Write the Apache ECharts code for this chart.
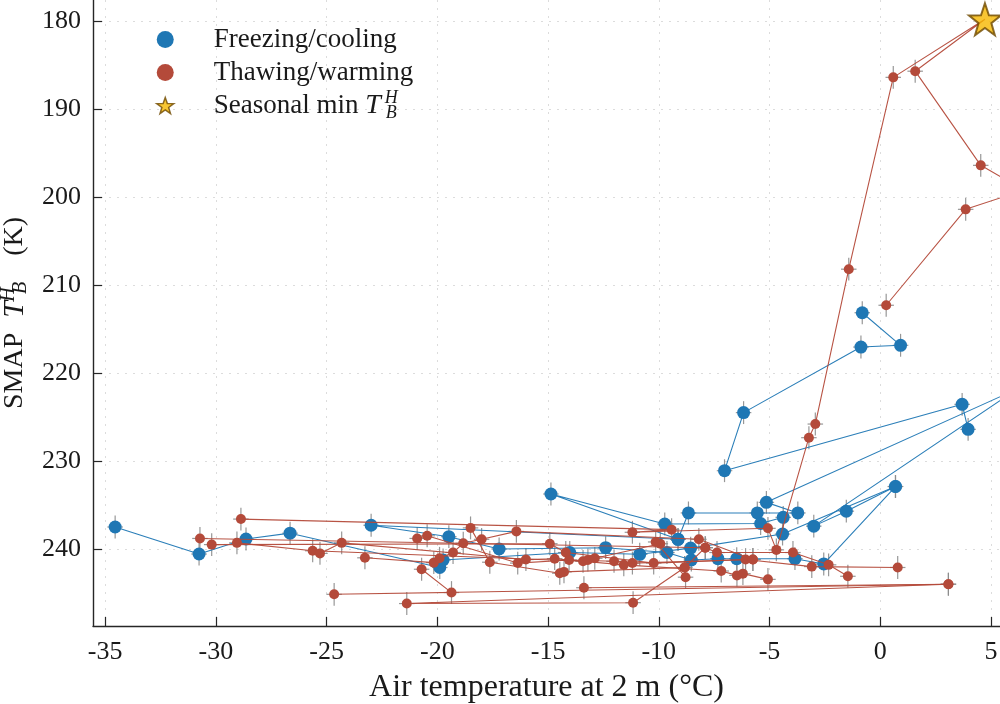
<!DOCTYPE html>
<html>
<head>
<meta charset="utf-8">
<script src="https://cdn.jsdelivr.net/npm/echarts@6/dist/echarts.min.js"></script>
<style>
  html, body { margin: 0; padding: 0; background: #fff; }
  #chart { width: 1000px; height: 704px; }
</style>
</head>
<body>
<div id="chart"></div>
<script>
// Tick positions
const xTicks = [-35, -30, -25, -20, -15, -10, -5, 0, 5];
const yTicks = [180, 190, 200, 210, 220, 230, 240];

// Measurement uncertainty drawn as error bars
const errK = 1.3;   // brightness temperature (K)
const errT = 0.35;  // air temperature (°C)

// Seasonal minimum of horizontally polarised brightness temperature
const seasonalMin = [4.73, 179.8];

// Freezing / cooling trajectories: [air temperature °C, T_B^H K]
const freezeA = [[3.97, 226.4], [3.70, 223.56], [-7.03, 231.1], [-6.17, 224.5], [-0.87, 217.05], [0.92, 216.85], [-0.81, 213.15]];
const freezeB = [[6.2, 221.8], [-5.14, 234.7], [-3.72, 235.9], [-5.55, 235.9], [-8.66, 235.9], [-9.13, 238.9], [-14.87, 233.75], [-9.73, 237.16], [-5.40, 237.1], [-4.38, 236.4]];
const freezeC = [[6.2, 221.8], [-3.00, 237.4], [-1.53, 235.7], [0.69, 232.9], [-2.55, 241.7], [-3.85, 241.1], [-6.48, 241.1], [-7.33, 241.1], [-8.53, 241.25], [-9.63, 240.4], [-12.40, 239.85], [-17.21, 240.0], [-19.48, 238.6], [-22.99, 237.3], [-9.13, 238.9]];
const freezeD = [[0.69, 232.9], [-4.41, 238.3], [-8.56, 239.9], [-10.86, 240.6], [-14.02, 240.4], [-19.74, 241.25], [-19.89, 242.1], [-26.65, 238.2], [-28.64, 238.86], [-30.76, 240.57], [-34.55, 237.5]];

// Thawing / warming trajectories
const thawA = [[-28.87, 236.6], [-9.42, 237.8], [-11.19, 238.1], [-5.07, 237.65], [-4.69, 240.1], [-3.22, 227.35], [-2.93, 225.8], [-1.42, 208.2], [0.59, 186.4], seasonalMin, [1.58, 185.7], [4.54, 196.4], [6.5, 199.2], [3.86, 201.4], [0.27, 212.3]];
const thawB = [[-30.72, 238.8], [-7.90, 239.85], [-7.37, 240.4], [-3.94, 240.4], [-2.33, 241.8], [-1.46, 243.1]];
const thawC = [[-30.19, 239.5], [-14.92, 239.4], [-14.2, 240.4], [-10.23, 241.6], [-6.08, 241.2], [-3.09, 242.0], [0.79, 242.1]];
const thawD = [[-29.05, 239.3], [-25.63, 240.2], [-13.42, 241.4], [-13.2, 241.25], [-12.89, 241.06], [-9.93, 239.4], [-10.14, 239.2], [-8.79, 243.2]];
const thawE = [[-25.30, 240.5], [-24.32, 239.3], [-16.0, 241.2], [-14.70, 241.1], [-11.58, 241.8], [-7.18, 242.5], [-6.47, 243.0], [-6.20, 242.8], [-5.07, 243.45]];
const thawF = [[-23.27, 241.0], [-20.16, 241.55], [-19.9, 241.06], [-19.29, 240.4], [-18.83, 239.35], [-18.00, 238.9], [-16.43, 238.0], [-8.19, 238.9], [-5.75, 241.2]];
const thawG = [[-20.71, 242.3], [-19.36, 244.95], [-24.66, 245.15], [3.08, 244.0]];
const thawH = [[-13.38, 244.4], [3.08, 244.0], [-21.38, 246.2], [-11.16, 246.1], [-8.83, 242.1], [-7.90, 239.85]];
const thawI = [[-20.91, 238.8], [-20.46, 238.5], [-16.37, 241.6], [-14.05, 241.25], [-12.02, 241.4], [-11.19, 241.6], [-5.75, 241.2]];
const thawJ = [[-18.50, 237.6], [-17.63, 241.5], [-14.47, 242.75], [-14.28, 242.6], [-8.83, 242.1]];

const freezePaths = [freezeA, freezeB, freezeC, freezeD];
const thawPaths = [thawA, thawB, thawC, thawD, thawE, thawF, thawG, thawH, thawI, thawJ];

const BLUE = '#1f77b4';
const RED = '#b44a3a';
const GOLD = '#f6b800';
const GOLD_EDGE = '#6e4800';
const INK = '#1a1a1a';
const FONT = '"Liberation Serif", "DejaVu Serif", serif';

const NAME_FREEZE = 'Freezing/cooling';
const NAME_THAW = 'Thawing/warming';
const NAME_MIN = 'Seasonal min';

// Five-pointed star outline used as a marker
function starPath() {
  const pts = [];
  for (let k = 0; k < 10; k++) {
    const r = k % 2 === 0 ? 50 : 20;
    const a = (-90 + k * 36) * Math.PI / 180;
    pts.push((50 + r * Math.cos(a)).toFixed(2) + ' ' + (50 + r * Math.sin(a)).toFixed(2));
  }
  return 'path://M' + pts.join(' L') + ' Z';
}
const STAR = starPath();

function pathSeries(name, pts, color, size, z) {
  return {
    type: 'line',
    name: name,
    data: pts.map(p => p === seasonalMin ? { value: p, symbol: 'none' } : p),
    symbol: 'circle',
    symbolSize: size,
    showSymbol: true,
    showAllSymbol: true,
    clip: true,
    lineStyle: { color: color, width: 1.1, opacity: 0.95 },
    itemStyle: { color: color, opacity: 1 },
    z: z,
    animation: false,
    emphasis: { disabled: true },
    silent: true
  };
}

// Every plotted observation gets an error cross
const allPoints = [];
freezePaths.concat(thawPaths).forEach(path => path.forEach(p => {
  if (p !== seasonalMin) allPoints.push(p);
}));

const errorSeries = {
  type: 'custom',
  name: 'errors',
  data: allPoints,
  z: 1,
  silent: true,
  animation: false,
  clip: true,
  renderItem: function (params, api) {
    const x = api.value(0), y = api.value(1);
    const top = api.coord([x, y - errK]);
    const bot = api.coord([x, y + errK]);
    const lft = api.coord([x - errT, y]);
    const rgt = api.coord([x + errT, y]);
    const style = { stroke: '#8c8c8c', lineWidth: 1.2, opacity: 0.9 };
    return {
      type: 'group',
      children: [
        { type: 'line', shape: { x1: top[0], y1: top[1], x2: bot[0], y2: bot[1] }, style: style },
        { type: 'line', shape: { x1: lft[0], y1: lft[1], x2: rgt[0], y2: rgt[1] }, style: style }
      ]
    };
  }
};

const series = [errorSeries];
freezePaths.forEach(p => series.push(pathSeries(NAME_FREEZE, p, BLUE, 13, 2)));
thawPaths.forEach(p => series.push(pathSeries(NAME_THAW, p, RED, 10, 3)));
series.push({
  type: 'scatter',
  name: NAME_MIN,
  data: [seasonalMin],
  symbol: STAR,
  symbolSize: 32,
  clip: false,
  itemStyle: { color: GOLD, borderColor: GOLD_EDGE, borderWidth: 2 },
  z: 5,
  animation: false,
  silent: true
});

const gridLine = { show: true, lineStyle: { color: '#dcdcdc', width: 1, type: [2, 6] } };
const axisColor = '#262626';

const option = {
  backgroundColor: '#ffffff',
  animation: false,
  grid: { left: 93, right: 0, top: 0, bottom: 78, containLabel: false, outerBoundsMode: 'none' },
  legend: {
    orient: 'vertical',
    left: 151,
    top: 18,
    itemWidth: 17,
    itemHeight: 17,
    itemGap: 0,
    selectedMode: false,
    data: [
      { name: NAME_FREEZE, icon: 'circle', itemStyle: { color: BLUE } },
      { name: NAME_THAW, icon: 'circle', itemStyle: { color: RED } },
      { name: NAME_MIN, icon: STAR, itemStyle: { color: GOLD, borderColor: GOLD_EDGE, borderWidth: 1.5 } }
    ],
    formatter: function (name) {
      if (name === NAME_MIN) return '{n|Seasonal min }{i|T}{sup|H}{sub|B}';
      return name;
    },
    textStyle: {
      fontFamily: FONT,
      fontSize: 27,
      color: INK,
      padding: [0, 0, 0, 35],
      lineHeight: 33,
      rich: {
        n: { fontFamily: FONT, fontSize: 27, color: INK, lineHeight: 33 },
        i: { fontFamily: FONT, fontSize: 28, fontStyle: 'italic', color: INK, lineHeight: 33, padding: [0, 4, 0, 0] },
        sup: { fontFamily: FONT, fontSize: 18, fontStyle: 'italic', color: INK, verticalAlign: 'top', width: 1, lineHeight: 33 },
        sub: { fontFamily: FONT, fontSize: 18, fontStyle: 'italic', color: INK, verticalAlign: 'bottom', lineHeight: 33 }
      }
    }
  },
  xAxis: {
    type: 'value',
    min: -35.55,
    max: 5.41,
    name: 'Air temperature at 2 m (°C)',
    nameLocation: 'middle',
    nameGap: 46,
    nameTextStyle: { fontFamily: FONT, fontSize: 32, color: INK },
    axisLine: { show: true, onZero: false, lineStyle: { color: axisColor, width: 1.4 } },
    axisTick: { show: true, inside: true, length: 9, customValues: xTicks, lineStyle: { color: axisColor, width: 1.2 } },
    axisLabel: { customValues: xTicks, fontFamily: FONT, fontSize: 26, color: INK, margin: 13, formatter: v => String(v) },
    splitLine: gridLine
  },
  yAxis: {
    type: 'value',
    inverse: true,
    min: 177.61,
    max: 248.75,
    name: '{n|SMAP }{i|T}{sup|H}{sub|B}{n|  (K)}',
    nameLocation: 'middle',
    nameRotate: 90,
    nameGap: 56,
    nameTextStyle: {
      fontFamily: FONT, fontSize: 28, color: INK,
      rich: {
        n: { fontFamily: FONT, fontSize: 28, color: INK, lineHeight: 32 },
        i: { fontFamily: FONT, fontSize: 30, fontStyle: 'italic', color: INK, lineHeight: 32, padding: [0, 6, 0, 8] },
        sup: { fontFamily: FONT, fontSize: 20, fontStyle: 'italic', color: INK, verticalAlign: 'top', width: 1, lineHeight: 32 },
        sub: { fontFamily: FONT, fontSize: 20, fontStyle: 'italic', color: INK, verticalAlign: 'bottom', lineHeight: 32, padding: [0, 12, 0, 0] }
      }
    },
    axisLine: { show: true, onZero: false, lineStyle: { color: axisColor, width: 1.4 } },
    axisTick: { show: true, inside: true, length: 9, customValues: yTicks, lineStyle: { color: axisColor, width: 1.2 } },
    axisLabel: { customValues: yTicks, fontFamily: FONT, fontSize: 26, color: INK, margin: 12 },
    splitLine: gridLine
  },
  series: series
};

const chart = echarts.init(document.getElementById('chart'), null, { renderer: 'canvas' });
chart.setOption(option);
</script>
</body>
</html>
